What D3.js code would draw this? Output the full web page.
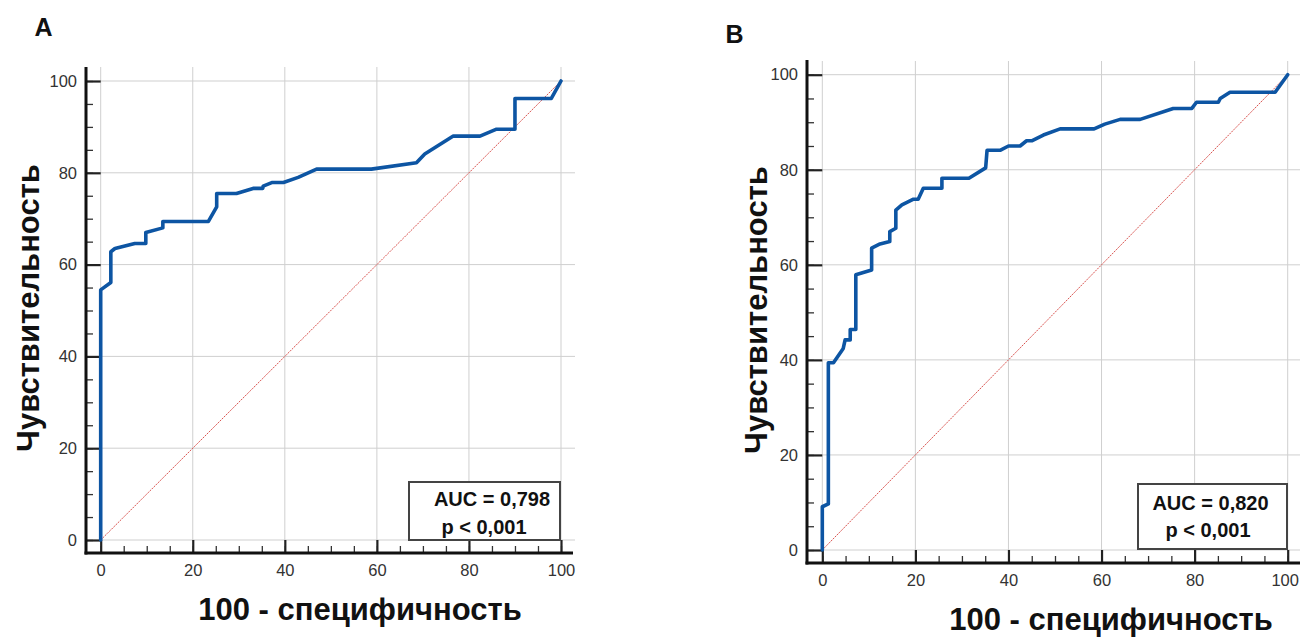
<!DOCTYPE html>
<html><head><meta charset="utf-8">
<script src="https://cdn.jsdelivr.net/npm/d3@7"></script>
<style>body{margin:0;background:#fff;} svg{display:block;font-family:"Liberation Sans",Arial,sans-serif;}</style>
</head><body><svg id="c" width="1300" height="637"></svg>
<script>
// Data
const majorTicks = [0, 20, 40, 60, 80, 100];
const minorTicks = d3.range(0, 101, 5);
const yTitle = "Чувствительность";
const xTitle = "100 - специфичность";
const panelLabels = ["A", "B"];
const aucTexts = ["AUC = 0,798", "AUC = 0,820"];
const pTexts = ["p < 0,001", "p < 0,001"];
const rocA_x = [0, 0, 2.2, 2.2, 3.1, 7.4, 9.8, 9.8, 13.5, 13.5, 23.4, 25.2, 25.2, 29.5, 33.1, 35.2, 35.3, 37.3, 39.7, 42.9, 46.9, 58.8, 68.6, 70.4, 76.6, 82.4, 86.0, 90.0, 90.0, 97.9, 100];
const rocA_y = [0, 54.5, 56.1, 62.8, 63.5, 64.6, 64.6, 67.0, 68.0, 69.4, 69.4, 72.6, 75.5, 75.5, 76.6, 76.6, 77.1, 77.9, 77.9, 79.0, 80.8, 80.8, 82.2, 84.1, 88.0, 88.0, 89.5, 89.5, 96.2, 96.2, 100];
const rocB_x = [0, 0, 1.3, 1.3, 2.4, 4.5, 4.9, 6.0, 6.0, 7.2, 7.2, 10.6, 10.6, 12.4, 14.5, 14.5, 15.8, 15.8, 17.1, 19.6, 20.6, 21.7, 25.7, 25.7, 31.5, 35.1, 35.4, 38.2, 40.0, 42.5, 43.9, 45.0, 47.5, 51.1, 58.4, 60.7, 64.0, 68.3, 75.4, 79.4, 80.4, 85.1, 85.5, 87.6, 97.3, 100];
const rocB_y = [0, 9.1, 9.7, 39.4, 39.4, 42.4, 44.2, 44.2, 46.4, 46.4, 57.9, 58.9, 63.5, 64.4, 64.9, 67.0, 67.7, 71.5, 72.6, 73.8, 73.8, 76.1, 76.1, 78.2, 78.2, 80.4, 84.1, 84.1, 85.0, 85.0, 86.1, 86.1, 87.3, 88.6, 88.6, 89.6, 90.6, 90.6, 92.9, 92.9, 94.2, 94.2, 95.0, 96.3, 96.3, 100];
const diagonal = [[0, 0], [100, 100]];

const svg = d3.select("#c");

const panels = [
  {xs: rocA_x, ys: rocA_y, xr: [100.7, 561], yr: [540, 81], axX: 86, axY: 553, gridTop: 67, gridRight: 575, axRight: 573, axTop: 67,
   label: [43.5, 36], yT: [28, 308], xT: [360, 620], box: [409, 482, 151, 58], c1: 492, c2: 484, l1: 506, l2: 533.5, lastDx: 0},
  {xs: rocB_x, ys: rocB_y, xr: [822.3, 1287.7], yr: [550, 74.7], axX: 807, axY: 563, gridTop: 61, gridRight: 1300, axRight: 1300, axTop: 60,
   label: [734.5, 43], yT: [756, 310], xT: [1111, 630], box: [1138, 484, 149, 65], c1: 1210.5, c2: 1208, l1: 509.5, l2: 536.5, lastDx: -3}
];

panels.forEach((p, i) => {
  const g = svg.append("g");
  const x = d3.scaleLinear().domain([0, 100]).range(p.xr);
  const y = d3.scaleLinear().domain([0, 100]).range(p.yr);

  // gridlines
  g.append("g").selectAll("line.v").data(majorTicks).join("line")
    .attr("x1", d => x(d)).attr("x2", d => x(d)).attr("y1", y(0)).attr("y2", p.gridTop)
    .attr("stroke", "#cfcfcf").attr("stroke-width", 1);
  g.append("g").selectAll("line.h").data(majorTicks).join("line")
    .attr("y1", d => y(d)).attr("y2", d => y(d)).attr("x1", x(0)).attr("x2", p.gridRight)
    .attr("stroke", "#cfcfcf").attr("stroke-width", 1);

  // minor ticks
  const minL = d3.axisLeft(y).tickValues(minorTicks).tickSize(-7).tickFormat("");
  const minB = d3.axisBottom(x).tickValues(minorTicks).tickSize(-7).tickFormat("");
  const gml = g.append("g").attr("transform", `translate(${p.axX},0)`).call(minL);
  const gmb = g.append("g").attr("transform", `translate(0,${p.axY})`).call(minB);
  [gml, gmb].forEach(a => { a.select(".domain").remove(); a.selectAll("line").attr("stroke", "#333").attr("stroke-width", 1.3); });

  // major ticks with labels
  const axL = d3.axisLeft(y).tickValues(majorTicks).tickSize(-(p.xr[0] - p.axX)).tickPadding(9);
  const axB = d3.axisBottom(x).tickValues(majorTicks).tickSize(-(p.axY - p.yr[0])).tickPadding(11);
  const gl = g.append("g").attr("transform", `translate(${p.axX},0)`).call(axL);
  const gb = g.append("g").attr("transform", `translate(0,${p.axY})`).call(axB);
  [gl, gb].forEach(a => {
    a.select(".domain").remove();
    a.selectAll("line").attr("stroke", "#222").attr("stroke-width", 2.2);
    a.selectAll("text").attr("font-size", 16.5).attr("fill", "#333").attr("font-family", "Liberation Sans, Arial, sans-serif");
  });
  gb.selectAll(".tick text").filter(d => d === 100).attr("dx", p.lastDx);

  // axis lines
  g.append("line").attr("x1", p.axX).attr("x2", p.axX).attr("y1", p.axTop).attr("y2", p.axY + 1.5)
    .attr("stroke", "#111").attr("stroke-width", 3);
  g.append("line").attr("x1", p.axX - 1.5).attr("x2", p.axRight).attr("y1", p.axY).attr("y2", p.axY)
    .attr("stroke", "#111").attr("stroke-width", 3);

  // diagonal
  g.append("path").datum(diagonal)
    .attr("d", d3.line().x(d => x(d[0])).y(d => y(d[1])))
    .attr("fill", "none").attr("stroke", "#d9534f").attr("stroke-width", 1).attr("stroke-dasharray", "2,1");

  // ROC curve
  const pts = p.xs.map((v, k) => [v, p.ys[k]]);
  g.append("path").datum(pts)
    .attr("d", d3.line().x(d => x(d[0])).y(d => y(d[1])))
    .attr("fill", "none").attr("stroke", "#0d55a3").attr("stroke-width", 3.6)
    .attr("stroke-linejoin", "round").attr("stroke-linecap", "round");

  // AUC box
  g.append("rect").attr("x", p.box[0]).attr("y", p.box[1]).attr("width", p.box[2]).attr("height", p.box[3])
    .attr("fill", "#fff").attr("stroke", "#444").attr("stroke-width", 2);
  g.append("text").attr("x", p.c1).attr("y", p.l1).attr("text-anchor", "middle")
    .attr("font-size", 20).attr("font-weight", "bold").attr("fill", "#111").text(aucTexts[i]);
  g.append("text").attr("x", p.c2).attr("y", p.l2).attr("text-anchor", "middle")
    .attr("font-size", 20).attr("font-weight", "bold").attr("fill", "#111").text(pTexts[i]);

  // titles
  g.append("text").attr("x", p.label[0]).attr("y", p.label[1]).attr("text-anchor", "middle")
    .attr("font-size", 25).attr("font-weight", "bold").attr("fill", "#111").text(panelLabels[i]);
  g.append("text").attr("transform", `translate(${p.yT[0]},${p.yT[1]}) rotate(-90)`).attr("text-anchor", "middle")
    .attr("dy", "0.35em").attr("font-size", 31).attr("font-weight", "bold").attr("fill", "#111").text(yTitle);
  g.append("text").attr("x", p.xT[0]).attr("y", p.xT[1]).attr("text-anchor", "middle")
    .attr("font-size", 31).attr("font-weight", "bold").attr("fill", "#111").text(xTitle);
});
</script></body></html>
